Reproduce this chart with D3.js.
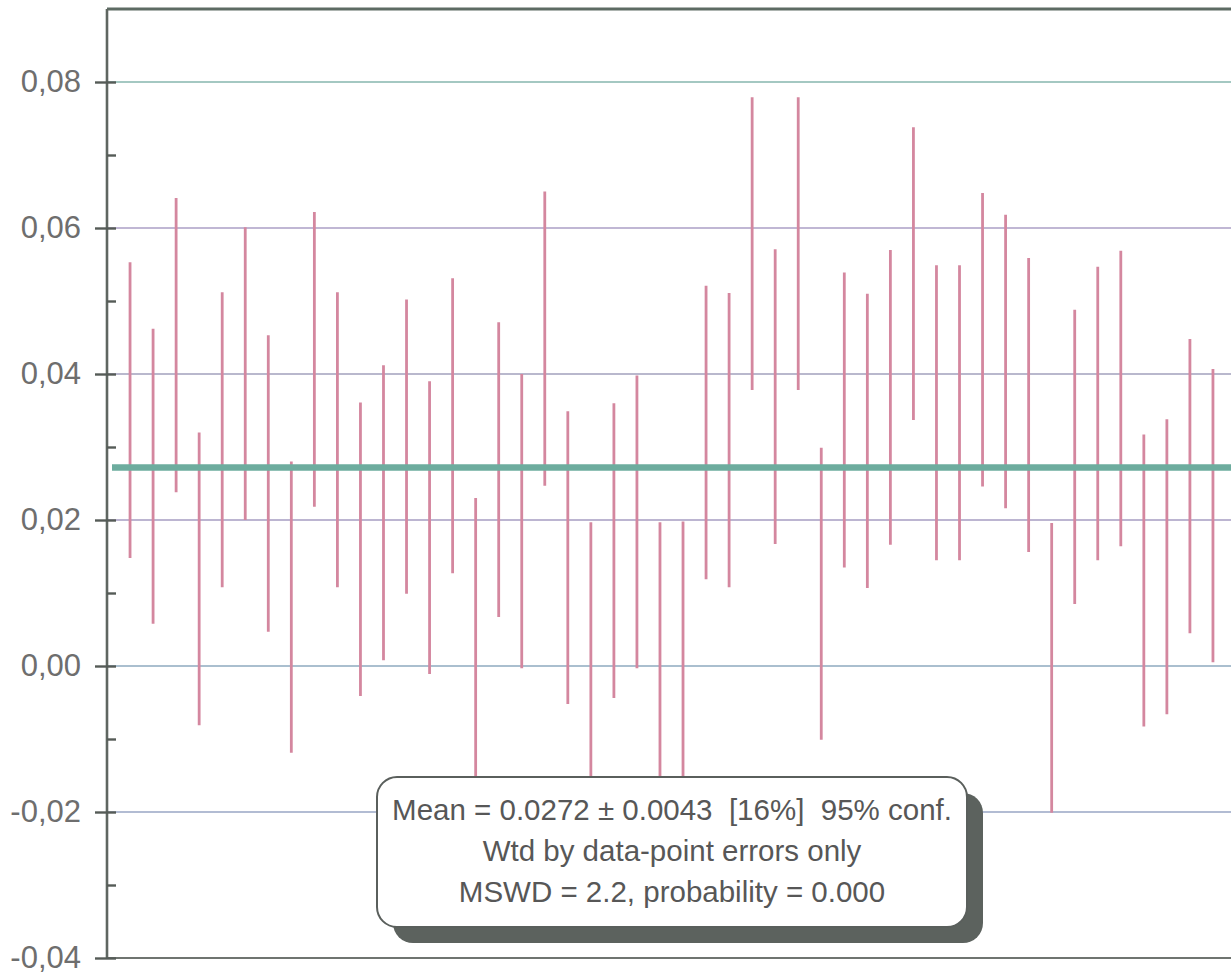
<!DOCTYPE html>
<html>
<head>
<meta charset="utf-8">
<script src="https://cdn.jsdelivr.net/npm/d3@7"></script>
<style>
  html, body { margin: 0; padding: 0; background: #ffffff; }
  svg { display: block; }
</style>
</head>
<body>
<svg id="chart" width="1231" height="974"></svg>
<script>
// ---- data ----
const lower = [0.0148, 0.0058, 0.0238, -0.0081, 0.0108, 0.0200, 0.0047, -0.0119, 0.0218, 0.0108,
               -0.0041, 0.0008, 0.0099, -0.0011, 0.0127, -0.0180, 0.0067, -0.0003, 0.0247, -0.0052,
               -0.0205, -0.0044, -0.0003, -0.0205, -0.0204, 0.0119, 0.0108, 0.0378, 0.0167, 0.0378,
               -0.0101, 0.0135, 0.0107, 0.0166, 0.0337, 0.0145, 0.0145, 0.0246, 0.0216, 0.0156,
               -0.0201, 0.0085, 0.0145, 0.0164, -0.0083, -0.0066, 0.0045, 0.0005];
const upper = [0.0553, 0.0462, 0.0641, 0.0320, 0.0512, 0.0601, 0.0453, 0.0280, 0.0622, 0.0512,
               0.0361, 0.0412, 0.0502, 0.0390, 0.0531, 0.0230, 0.0471, 0.0400, 0.0650, 0.0349,
               0.0197, 0.0360, 0.0398, 0.0197, 0.0198, 0.0521, 0.0511, 0.0779, 0.0571, 0.0779,
               0.0299, 0.0539, 0.0510, 0.0570, 0.0738, 0.0549, 0.0549, 0.0648, 0.0618, 0.0559,
               0.0196, 0.0488, 0.0547, 0.0569, 0.0317, 0.0338, 0.0448, 0.0407];
const meanValue = 0.0272;
const majorTicks = [-0.04, -0.02, 0.00, 0.02, 0.04, 0.06, 0.08];
const tickLabels = ["-0,04", "-0,02", "0,00", "0,02", "0,04", "0,06", "0,08"];
const minorTicks = [-0.03, -0.01, 0.01, 0.03, 0.05, 0.07];
const boxLines = [
  "Mean = 0.0272 \u00b1 0.0043\u00a0\u00a0[16%]\u00a0\u00a095% conf.",
  "Wtd by data-point errors only",
  "MSWD = 2.2, probability = 0.000"
];

(function () {
  // ---- layout ----
  const svg = d3.select("#chart");
  const pLeft = 107, pTop = 9, pBottom = 958, pRight = 1236;
  const n = lower.length;

  const x = d3.scaleLinear().domain([0, n + 1]).range([pLeft, pRight]);
  const y = d3.scaleLinear().domain([-0.04, 0.09]).range([pBottom, pTop]);

  const gridColors = ["#8ea0bc", "#98a6c4", "#8eaabf", "#a69cc2", "#a2a0bc", "#ab9fc6", "#86b6ae"];

  // gridlines
  svg.append("g").selectAll("line").data(majorTicks.filter(v => v > -0.04)).join("line")
    .attr("x1", pLeft).attr("x2", 1231)
    .attr("y1", d => y(d)).attr("y2", d => y(d))
    .attr("stroke", (d, i) => gridColors[i + 1])
    .attr("stroke-width", 1.6);

  // error bars
  svg.append("g").selectAll("line").data(d3.range(n)).join("line")
    .attr("x1", i => x(i + 1)).attr("x2", i => x(i + 1))
    .attr("y1", i => y(lower[i])).attr("y2", i => y(upper[i]))
    .attr("stroke", "#d4879f")
    .attr("stroke-width", 2.8);

  // mean line
  svg.append("line")
    .attr("x1", pLeft + 5).attr("x2", 1231)
    .attr("y1", y(meanValue)).attr("y2", y(meanValue))
    .attr("stroke", "#6dac9e")
    .attr("stroke-width", 6.5);

  // frame: top and bottom
  svg.append("line").attr("x1", pLeft).attr("x2", 1231).attr("y1", pTop).attr("y2", pTop)
    .attr("stroke", "#5d6b63").attr("stroke-width", 3);
  svg.append("line").attr("x1", pLeft).attr("x2", 1231).attr("y1", pBottom).attr("y2", pBottom)
    .attr("stroke", "#6f7470").attr("stroke-width", 2.2);

  // y axis (outer major ticks with labels)
  const yAxis = d3.axisLeft(y)
    .tickValues(majorTicks)
    .tickFormat((d, i) => tickLabels[i])
    .tickSizeInner(12).tickSizeOuter(0).tickPadding(14);
  const gy = svg.append("g").attr("transform", `translate(${pLeft},0)`).call(yAxis);
  gy.select(".domain").attr("stroke", "#5f6661").attr("stroke-width", 2.6)
    .attr("d", `M0,${pTop}V${pBottom}`);
  gy.selectAll(".tick line").attr("stroke", "#555b57").attr("stroke-width", 2.4);
  gy.selectAll(".tick text")
    .attr("fill", "#6e6e6e")
    .style("font-family", "'Liberation Sans', Arial, sans-serif")
    .style("font-size", "31px");

  // inner ticks (major + minor)
  const yInner = d3.axisRight(y)
    .tickValues(majorTicks.concat(minorTicks))
    .tickFormat("")
    .tickSizeInner(9).tickSizeOuter(0);
  const gi = svg.append("g").attr("transform", `translate(${pLeft},0)`).call(yInner);
  gi.select(".domain").remove();
  gi.selectAll(".tick line").attr("stroke", "#555b57").attr("stroke-width", 2.4);

  // annotation box with shadow
  const bx = 377, by = 777, bw = 590, bh = 150, br = 20;
  svg.append("rect").attr("x", bx + 16).attr("y", by + 16).attr("width", bw).attr("height", bh)
    .attr("rx", br).attr("ry", br).attr("fill", "#5c625e");
  svg.append("rect").attr("x", bx).attr("y", by).attr("width", bw).attr("height", bh)
    .attr("rx", br).attr("ry", br).attr("fill", "#ffffff")
    .attr("stroke", "#5a5f5c").attr("stroke-width", 2);
  svg.append("g").selectAll("text").data(boxLines).join("text")
    .attr("x", bx + bw / 2)
    .attr("y", (d, i) => 820 + i * 41)
    .attr("text-anchor", "middle")
    .attr("fill", "#575757")
    .style("font-family", "'Liberation Sans', Arial, sans-serif")
    .style("font-size", "29.5px")
    .text(d => d);
})();
</script>
</body>
</html>
